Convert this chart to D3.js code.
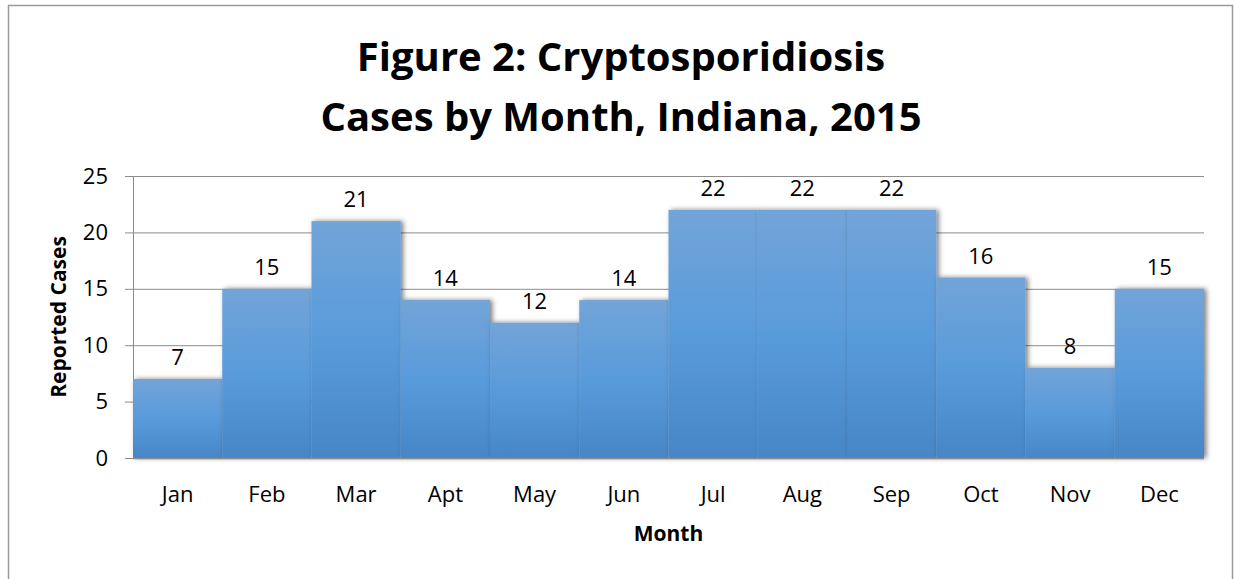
<!DOCTYPE html>
<html>
<head>
<meta charset="utf-8">
<script src="https://cdn.jsdelivr.net/npm/d3@7"></script>
<style>
  body { margin: 0; background: #fff; }
  svg { display: block; }
  text { font-family: "Open Sans", Lato, sans-serif; fill: #000; }
</style>
</head>
<body>
<script>
  const months = ['Jan', 'Feb', 'Mar', 'Apt', 'May', 'Jun', 'Jul', 'Aug', 'Sep', 'Oct', 'Nov', 'Dec'];
  const cases = [7, 15, 21, 14, 12, 14, 22, 22, 22, 16, 8, 15];
  const yTicks = [0, 5, 10, 15, 20, 25];
  const titleLines = ['Figure 2: Cryptosporidiosis', 'Cases by Month, Indiana, 2015'];

  const W = 1235, H = 579;
  const margin = { top: 176, right: 31, bottom: 121, left: 133 };
  const width = W - margin.left - margin.right;
  const height = H - margin.top - margin.bottom;

  const svg = d3.select('body').append('svg')
    .attr('width', W)
    .attr('height', H);

  const defs = svg.append('defs');

  const grad = defs.append('linearGradient')
    .attr('id', 'barGrad')
    .attr('x1', 0).attr('y1', 0).attr('x2', 0).attr('y2', 1);
  grad.append('stop').attr('offset', '0%').attr('stop-color', '#72a4d8');
  grad.append('stop').attr('offset', '50%').attr('stop-color', '#599bdb');
  grad.append('stop').attr('offset', '100%').attr('stop-color', '#4786c6');

  const shadow = defs.append('filter')
    .attr('id', 'shadow')
    .attr('x', '-10%').attr('y', '-10%')
    .attr('width', '130%').attr('height', '120%');
  shadow.append('feDropShadow')
    .attr('dx', 2.5).attr('dy', 0)
    .attr('stdDeviation', 2.5)
    .attr('flood-color', '#000')
    .attr('flood-opacity', 0.5);

  // outer chart border
  svg.append('rect')
    .attr('x', 8.5).attr('y', 5.5)
    .attr('width', 1224).attr('height', 600)
    .attr('fill', 'none')
    .attr('stroke', '#9a9a9a')
    .attr('stroke-width', 1.5);

  // title
  svg.append('g').selectAll('text')
    .data(titleLines)
    .enter().append('text')
      .attr('x', 621)
      .attr('y', (d, i) => 71 + i * 60)
      .attr('text-anchor', 'middle')
      .attr('font-size', '40px')
      .attr('font-weight', 'bold')
      .text(d => d);

  const g = svg.append('g')
    .attr('transform', `translate(${margin.left},${margin.top})`);

  const x = d3.scaleBand()
    .domain(months)
    .range([0, width])
    .padding(0);

  const y = d3.scaleLinear()
    .domain([0, 25])
    .range([height, 0]);

  // gridlines + y axis
  const yAxis = g.append('g')
    .call(d3.axisLeft(y)
      .tickValues(yTicks)
      .tickSize(8)
      .tickPadding(17)
      .tickFormat(d3.format('d')));
  yAxis.select('.domain').attr('stroke', '#8c8c8c');
  yAxis.selectAll('.tick line').attr('stroke', '#8c8c8c');
  yAxis.selectAll('.tick text')
    .attr('font-size', '22px')
    .attr('font-family', '"Open Sans", sans-serif')
    .attr('fill', '#000');

  g.append('g')
    .selectAll('line')
    .data(yTicks.filter(d => d > 0))
    .enter().append('line')
      .attr('x1', 0)
      .attr('x2', width)
      .attr('y1', d => y(d) + 0.5)
      .attr('y2', d => y(d) + 0.5)
      .attr('stroke', '#8c8c8c')
      .attr('stroke-width', 1);

  // bars
  g.append('g')
    .selectAll('rect')
    .data(cases)
    .enter().append('rect')
      .attr('x', (d, i) => x(months[i]))
      .attr('y', d => y(d))
      .attr('width', x.bandwidth())
      .attr('height', d => height - y(d))
      .attr('fill', 'url(#barGrad)')
      .attr('filter', 'url(#shadow)');

  // x axis line
  g.append('line')
    .attr('x1', 0).attr('x2', width)
    .attr('y1', height + 0.5).attr('y2', height + 0.5)
    .attr('stroke', '#8c8c8c')
    .attr('stroke-width', 1.5);

  // data labels
  g.append('g')
    .selectAll('text')
    .data(cases)
    .enter().append('text')
      .attr('x', (d, i) => x(months[i]) + x.bandwidth() / 2)
      .attr('y', d => y(d) - 14)
      .attr('text-anchor', 'middle')
      .attr('font-size', '22px')
      .text(d => d);

  // month labels
  g.append('g')
    .selectAll('text')
    .data(months)
    .enter().append('text')
      .attr('x', d => x(d) + x.bandwidth() / 2)
      .attr('y', height + 44)
      .attr('text-anchor', 'middle')
      .attr('font-size', '22px')
      .text(d => d);

  // axis titles
  g.append('text')
    .attr('x', width / 2)
    .attr('y', height + 83)
    .attr('text-anchor', 'middle')
    .attr('font-size', '21px')
    .attr('font-weight', 'bold')
    .text('Month');

  g.append('text')
    .attr('transform', `translate(-67,${height / 2}) rotate(-90)`)
    .attr('text-anchor', 'middle')
    .attr('font-size', '21px')
    .attr('font-weight', 'bold')
    .text('Reported Cases');
</script>
</body>
</html>
